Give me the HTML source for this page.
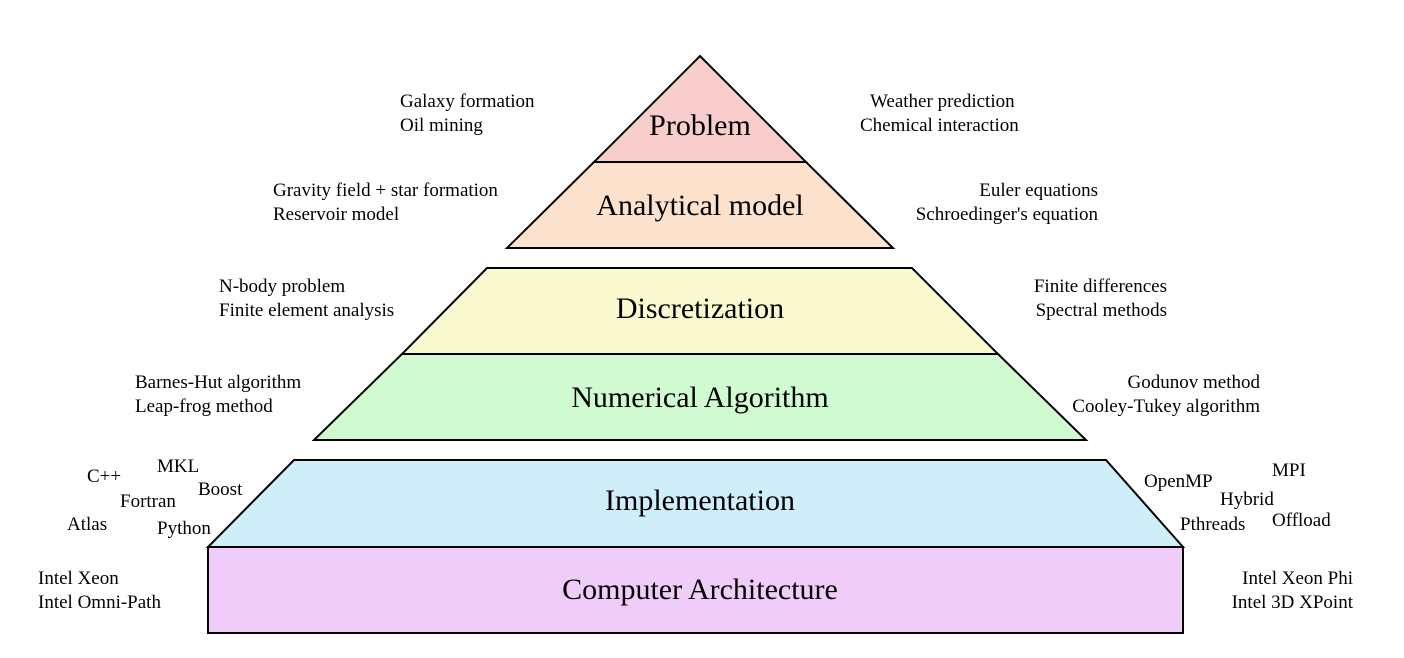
<!DOCTYPE html>
<html><head><meta charset="utf-8"><style>
html,body{margin:0;padding:0;background:#fff;}
svg{display:block;}
text{font-family:"Liberation Serif",serif;fill:#000;}
.b{font-size:30px;text-anchor:middle;}
.s{font-size:19px;}
</style></head><body>
<svg width="1404" height="658" viewBox="0 0 1404 658" xmlns="http://www.w3.org/2000/svg">
<g stroke="#000" stroke-width="2">
<polygon points="700,56 806,162 594,162" fill="#f8cecc"/>
<polygon points="594,162 806,162 893,248 507,248" fill="#fce2cd"/>
<polygon points="487,268 912,268 998,354 402,354" fill="#fbf9cf"/>
<polygon points="402,354 998,354 1086,440 314,440" fill="#d0fbd0"/>
<polygon points="294,460 1106,460 1183,547 208,547" fill="#d0eef9"/>
<rect x="208" y="547" width="975" height="86" fill="#f0ccf8"/>
</g>
<text class="b" x="700" y="135">Problem</text>
<text class="b" x="700" y="215">Analytical model</text>
<text class="b" x="700" y="318">Discretization</text>
<text class="b" x="700" y="407">Numerical Algorithm</text>
<text class="b" x="700" y="510">Implementation</text>
<text class="b" x="700" y="599">Computer Architecture</text>

<text class="s" x="400" y="107">Galaxy formation</text>
<text class="s" x="400" y="131">Oil mining</text>
<text class="s" x="870" y="107">Weather  prediction</text>
<text class="s" x="860" y="131">Chemical interaction</text>

<text class="s" x="273" y="196">Gravity field + star formation</text>
<text class="s" x="273" y="220">Reservoir model</text>
<text class="s" x="1098" y="196" text-anchor="end">Euler equations</text>
<text class="s" x="1098" y="220" text-anchor="end">Schroedinger's equation</text>

<text class="s" x="219" y="292">N-body problem</text>
<text class="s" x="219" y="316">Finite element analysis</text>
<text class="s" x="1167" y="292" text-anchor="end">Finite differences</text>
<text class="s" x="1167" y="316" text-anchor="end">Spectral methods</text>

<text class="s" x="135" y="388">Barnes-Hut algorithm</text>
<text class="s" x="135" y="412">Leap-frog method</text>
<text class="s" x="1260" y="388" text-anchor="end">Godunov method</text>
<text class="s" x="1260" y="412" text-anchor="end">Cooley-Tukey algorithm</text>

<text class="s" x="87" y="482">C++</text>
<text class="s" x="157" y="472">MKL</text>
<text class="s" x="198" y="495">Boost</text>
<text class="s" x="120" y="507">Fortran</text>
<text class="s" x="67" y="530">Atlas</text>
<text class="s" x="157" y="534">Python</text>

<text class="s" x="1144" y="487">OpenMP</text>
<text class="s" x="1272" y="476">MPI</text>
<text class="s" x="1220" y="505">Hybrid</text>
<text class="s" x="1180" y="530">Pthreads</text>
<text class="s" x="1272" y="526">Offload</text>

<text class="s" x="38" y="584">Intel Xeon</text>
<text class="s" x="38" y="608">Intel Omni-Path</text>
<text class="s" x="1353" y="584" text-anchor="end">Intel Xeon Phi</text>
<text class="s" x="1353" y="608" text-anchor="end">Intel 3D XPoint</text>
</svg>
</body></html>
